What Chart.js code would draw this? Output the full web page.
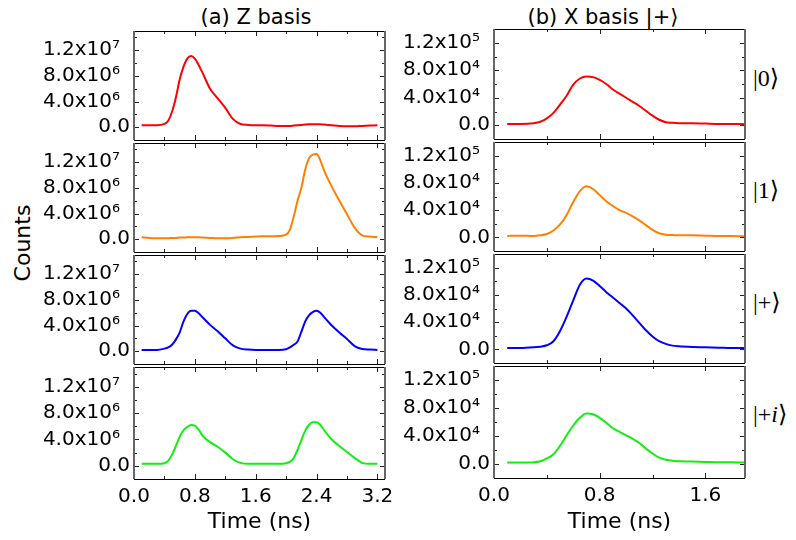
<!DOCTYPE html>
<html>
<head>
<meta charset="utf-8">
<script src="https://cdn.jsdelivr.net/npm/chart.js@4"></script>
<style>
  body { margin: 0; background: #fff; }
  #wrap { position: relative; width: 796px; height: 540px; overflow: hidden; }
  #wrap canvas { position: absolute; }
  .lbl { position: absolute; font-family: 'DejaVu Sans', sans-serif; color: #000; white-space: nowrap; }
  .ket { position: absolute; font-family: 'Liberation Serif', 'DejaVu Serif', serif; font-size: 24px; color: #000; white-space: nowrap; }
</style>
</head>
<body>
<div id="wrap">
  <div class="lbl" style="left:256px;top:17px;font-size:21px;transform:translate(-50%,-50%)">(a) Z basis</div>
  <div class="lbl" style="left:603px;top:17px;font-size:21px;transform:translate(-50%,-50%)">(b) X basis |+⟩</div>
  <div class="lbl" style="left:22px;top:243px;font-size:22px;transform:translate(-50%,-50%) rotate(-90deg)">Counts</div>
  <div class="ket" style="left:753px;top:78px;transform:translateY(-50%)">|0⟩</div>
  <div class="ket" style="left:753px;top:190px;transform:translateY(-50%)">|1⟩</div>
  <div class="ket" style="left:753px;top:302px;transform:translateY(-50%)">|+⟩</div>
  <div class="ket" style="left:753px;top:414px;transform:translateY(-50%)">|+<i>i</i>⟩</div>
</div>
<script>
// (a) Z basis, time in ns, counts in units of 1e6
const zTimes  = [0.1, 0.2, 0.3, 0.4, 0.45, 0.5, 0.55, 0.6, 0.65, 0.7, 0.75, 0.8, 0.85, 0.9, 1.0, 1.1, 1.2, 1.3, 1.4, 1.5, 1.6, 1.7, 1.8, 1.9,
                 2.0, 2.05, 2.1, 2.15, 2.2, 2.25, 2.3, 2.35, 2.4, 2.45, 2.5, 2.6, 2.7, 2.8, 2.9, 3.0, 3.1, 3.2];
const zRed    = [0.3, 0.3, 0.3, 0.5, 1.0, 2.4, 4.6, 7.4, 9.4, 10.7, 11.1, 10.7, 9.7, 8.5, 6.0, 4.5, 3.0, 1.3, 0.5, 0.35, 0.3, 0.3, 0.25, 0.2,
                 0.2, 0.2, 0.25, 0.3, 0.35, 0.4, 0.45, 0.45, 0.45, 0.45, 0.4, 0.3, 0.2, 0.15, 0.15, 0.2, 0.25, 0.3];
const zOrange = [0.3, 0.2, 0.15, 0.15, 0.15, 0.2, 0.2, 0.25, 0.25, 0.3, 0.3, 0.3, 0.3, 0.25, 0.2, 0.15, 0.15, 0.2, 0.3, 0.35, 0.4, 0.45, 0.45, 0.5,
                 0.7, 1.5, 3.5, 6.0, 8.0, 10.8, 12.6, 13.2, 13.3, 12.3, 10.7, 8.2, 6.0, 3.9, 1.8, 0.6, 0.4, 0.3];
const zBlue   = [0.2, 0.2, 0.2, 0.4, 0.6, 1.0, 1.8, 2.9, 4.6, 5.8, 6.3, 6.3, 5.9, 5.3, 4.1, 3.1, 2.0, 0.9, 0.4, 0.25, 0.2, 0.2, 0.2, 0.2,
                 0.3, 0.6, 1.0, 1.5, 3.0, 4.6, 5.6, 6.1, 6.3, 6.0, 5.3, 4.0, 2.9, 1.9, 0.8, 0.35, 0.25, 0.2];
const zGreen  = [0.3, 0.3, 0.3, 0.4, 0.8, 1.7, 3.0, 4.4, 5.4, 5.9, 6.2, 6.1, 5.5, 4.6, 3.6, 2.9, 2.0, 1.0, 0.45, 0.3, 0.3, 0.3, 0.3, 0.3,
                 0.4, 0.6, 1.2, 2.4, 3.9, 5.3, 6.2, 6.6, 6.6, 6.2, 5.4, 4.0, 3.0, 2.1, 1.2, 0.45, 0.3, 0.3];

// (b) X basis |+>, time in ns, counts in units of 1e4
const xTimes  = [0.1, 0.2, 0.3, 0.35, 0.4, 0.45, 0.5, 0.55, 0.6, 0.65, 0.7, 0.75, 0.8, 0.85, 0.9, 0.95, 1.0, 1.05, 1.1, 1.15,
                 1.2, 1.25, 1.3, 1.35, 1.4, 1.5, 1.6, 1.7, 1.8, 1.9];
const xRed    = [0.2, 0.2, 0.3, 0.5, 1.0, 1.8, 3.0, 4.3, 5.9, 6.8, 7.1, 7.0, 6.6, 6.0, 5.2, 4.6, 4.0, 3.4, 2.8, 2.1,
                 1.4, 0.8, 0.45, 0.35, 0.3, 0.3, 0.25, 0.2, 0.2, 0.15];
const xOrange = [0.2, 0.25, 0.2, 0.3, 0.5, 1.0, 1.9, 3.3, 5.2, 6.8, 7.5, 7.1, 6.2, 5.3, 4.6, 4.0, 3.6, 3.1, 2.5, 1.8,
                 1.1, 0.6, 0.4, 0.35, 0.3, 0.3, 0.25, 0.2, 0.2, 0.15];
const xBlue   = [0.2, 0.2, 0.3, 0.4, 0.6, 1.2, 2.7, 4.8, 7.2, 9.5, 10.4, 10.1, 9.3, 8.4, 7.6, 6.8, 6.0, 5.0, 3.9, 2.8,
                 1.9, 1.2, 0.8, 0.55, 0.45, 0.35, 0.3, 0.25, 0.2, 0.2];
const xGreen  = [0.2, 0.2, 0.25, 0.4, 0.8, 1.4, 2.6, 4.1, 5.5, 6.6, 7.2, 7.1, 6.6, 5.9, 5.1, 4.6, 4.1, 3.6, 3.0, 2.2,
                 1.5, 0.9, 0.6, 0.45, 0.4, 0.35, 0.3, 0.25, 0.25, 0.2];

const lineColors = ['#ff0000', '#ff8000', '#0000ff', '#11ee11'];

// tick values / labels
const yTickVals = [0, 4, 8, 12];
const yMinorVals = [-2, 2, 6, 10, 14];
const zYLabels = ['0.0', '4.0x10⁶', '8.0x10⁶', '1.2x10⁷'];
const xYLabels = ['0.0', '4.0x10⁴', '8.0x10⁴', '1.2x10⁵'];
const zXTicks = [0, 0.8, 1.6, 2.4, 3.2];
const zXLabels = ['0.0', '0.8', '1.6', '2.4', '3.2'];
const zXMinor = [0.4, 1.2, 2.0, 2.8];
const xXTicks = [0, 0.8, 1.6];
const xXLabels = ['0.0', '0.8', '1.6'];
const xXMinor = [0.4, 1.2];

const FONT = 'DejaVu Sans';

// frame with inward ticks on all four sides
const framePlugin = {
    id: 'frame',
    afterDraw(chart) {
        const o = chart.options.plugins.frame;
        const { ctx, chartArea: a } = chart;
        const xs = chart.scales.x, ys = chart.scales.y;
        ctx.save();
        ctx.strokeStyle = '#222';
        ctx.lineWidth = 1;
        ctx.beginPath();
        o.yMajor.forEach(v => {
            const y = Math.round(ys.getPixelForValue(v)) + 0.5;
            ctx.moveTo(a.left, y); ctx.lineTo(a.left + 5, y);
            ctx.moveTo(a.right, y); ctx.lineTo(a.right - 5, y);
        });
        o.yMinor.forEach(v => {
            const y = Math.round(ys.getPixelForValue(v)) + 0.5;
            ctx.moveTo(a.left, y); ctx.lineTo(a.left + 3, y);
            ctx.moveTo(a.right, y); ctx.lineTo(a.right - 3, y);
        });
        o.xMajor.forEach(v => {
            const x = Math.round(xs.getPixelForValue(v)) + 0.5;
            ctx.moveTo(x, a.top); ctx.lineTo(x, a.top + 5);
            ctx.moveTo(x, a.bottom); ctx.lineTo(x, a.bottom - 5);
        });
        o.xMinor.forEach(v => {
            const x = Math.round(xs.getPixelForValue(v)) + 0.5;
            ctx.moveTo(x, a.top); ctx.lineTo(x, a.top + 3);
            ctx.moveTo(x, a.bottom); ctx.lineTo(x, a.bottom - 3);
        });
        ctx.stroke();
        // top / bottom lines
        ctx.strokeStyle = '#000';
        ctx.beginPath();
        ctx.moveTo(a.left, Math.round(a.top) + 0.5); ctx.lineTo(a.right, Math.round(a.top) + 0.5);
        ctx.moveTo(a.left, Math.round(a.bottom) + 0.5); ctx.lineTo(a.right, Math.round(a.bottom) + 0.5);
        ctx.stroke();
        // side lines
        ctx.strokeStyle = '#666';
        ctx.lineWidth = 2;
        ctx.beginPath();
        ctx.moveTo(a.left, a.top); ctx.lineTo(a.left, a.bottom);
        ctx.moveTo(a.right, a.top); ctx.lineTo(a.right, a.bottom);
        ctx.stroke();
        ctx.restore();
    }
};

const columns = [
    { left: 0, width: 400, plotLeft: 134, plotRight: 385, tops: [31, 143, 255, 367, 479],
      xMax: 3.3, yMax: 15, times: zTimes, series: [zRed, zOrange, zBlue, zGreen],
      yLabels: zYLabels, xTicks: zXTicks, xLabels: zXLabels, xMinor: zXMinor },
    { left: 400, width: 396, plotLeft: 494, plotRight: 745, tops: [29, 142, 254, 366, 478],
      xMax: 1.9, yMax: 14, times: xTimes, series: [xRed, xOrange, xBlue, xGreen],
      yLabels: xYLabels, xTicks: xXTicks, xLabels: xXLabels, xMinor: xXMinor }
];

function fmtY(labels, v) {
    const i = yTickVals.indexOf(v);
    const s = labels[i] || '';
    // exponent labels sit a little further from the axis
    return s.indexOf('x') >= 0 ? s + '\u2002' : s;
}

function makePanel(col, k) {
    const wrap = document.getElementById('wrap');
    const cv = document.createElement('canvas');
    const isBottom = k === 3;
    const top = col.tops[k] - 3;
    const plotH = col.tops[k + 1] - col.tops[k];
    const h = isBottom ? 540 - top : plotH + 6;
    cv.width = col.width;
    cv.height = h;
    cv.style.left = col.left + 'px';
    cv.style.top = top + 'px';
    cv.style.width = col.width + 'px';
    cv.style.height = h + 'px';
    wrap.appendChild(cv);

    const vals = col.series[k];
    new Chart(cv.getContext('2d'), {
        type: 'line',
        data: {
            datasets: [{
                data: col.times.map((t, i) => ({ x: t, y: vals[i] })),
                borderColor: lineColors[k],
                borderWidth: 2,
                pointRadius: 0,
                fill: false,
                cubicInterpolationMode: 'monotone'
            }]
        },
        options: {
            responsive: false,
            animation: false,
            devicePixelRatio: 1,
            layout: { padding: { left: 0, right: col.left + col.width - col.plotRight, top: 3, bottom: isBottom ? 0 : 3 } },
            plugins: {
                legend: { display: false },
                tooltip: { enabled: false },
                frame: { yMajor: yTickVals, yMinor: yMinorVals, xMajor: col.xTicks, xMinor: col.xMinor }
            },
            scales: {
                x: {
                    type: 'linear',
                    min: 0,
                    max: col.xMax,
                    display: isBottom,
                    grid: { display: false, drawTicks: false },
                    border: { display: false },
                    afterBuildTicks: s => { s.ticks = col.xTicks.map(v => ({ value: v })); },
                    afterFit: s => {
                        s.height = h - 3 - plotH;
                        s.paddingLeft = 0; s.paddingRight = 0;
                    },
                    ticks: {
                        autoSkip: false,
                        maxRotation: 0,
                        padding: 6,
                        color: '#000',
                        font: { family: FONT, size: 20 },
                        callback: v => col.xLabels[col.xTicks.indexOf(v)]
                    },
                    title: {
                        display: true,
                        text: 'Time (ns)',
                        color: '#000',
                        font: { family: FONT, size: 22 },
                        padding: { top: 0, bottom: 5 }
                    }
                },
                y: {
                    min: -2,
                    max: col.yMax,
                    grid: { display: false, drawTicks: false },
                    border: { display: false },
                    afterBuildTicks: s => { s.ticks = yTickVals.map(v => ({ value: v })); },
                    afterFit: s => {
                        s.width = col.plotLeft - col.left;
                        s.paddingTop = 0; s.paddingBottom = 0;
                    },
                    ticks: {
                        padding: 4,
                        color: '#000',
                        font: { family: FONT, size: 20 },
                        callback: v => fmtY(col.yLabels, v)
                    }
                }
            }
        },
        plugins: [framePlugin]
    });
}

columns.forEach(col => {
    for (let k = 0; k < 4; k++) makePanel(col, k);
});
</script>
</body>
</html>
